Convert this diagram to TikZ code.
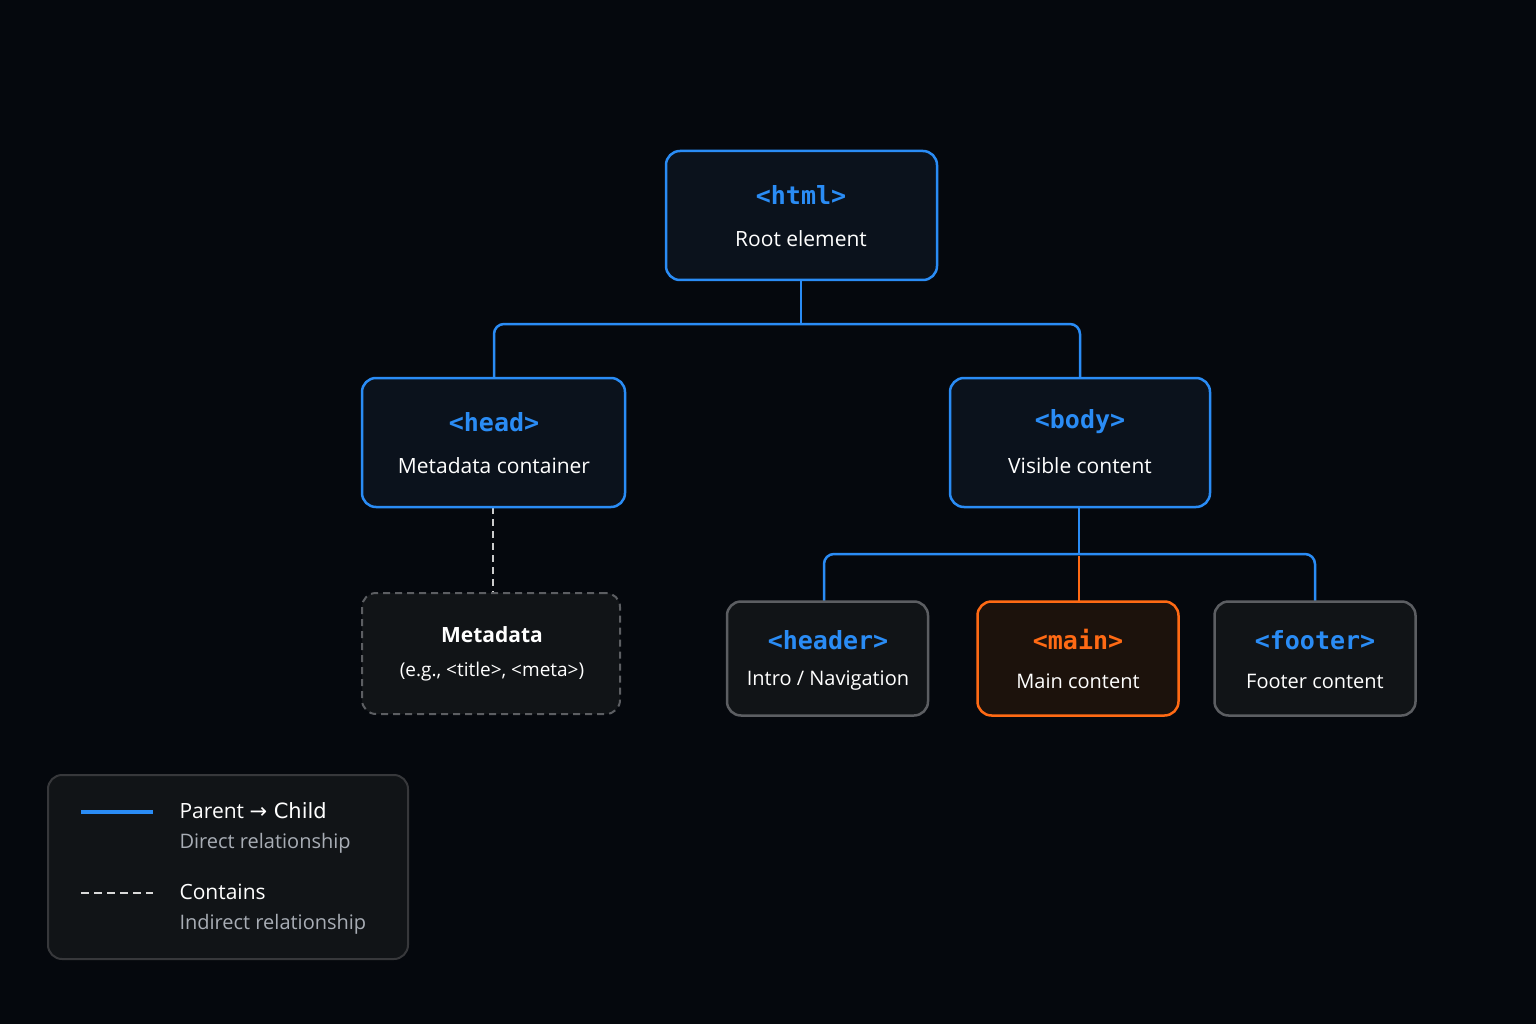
\documentclass[tikz,border=0pt]{standalone}
\usepackage{fontspec}
\setmainfont{Open Sans}
\newfontfamily\tagfont{DejaVu Sans Mono}
\begin{document}
\definecolor{bg}{HTML}{05080D}
\definecolor{blu}{HTML}{2A8CF5}
\definecolor{bfill}{HTML}{0B121C}
\definecolor{gfill}{HTML}{111417}
\definecolor{gline}{HTML}{5C5E62}
\definecolor{org}{HTML}{FF6A14}
\definecolor{ofill}{HTML}{1C120C}
\definecolor{sub}{HTML}{A8ADB5}
\begin{tikzpicture}[x=1pt,y=-1pt,
  box/.style={draw=blu,line width=2.5pt,fill=bfill,rounded corners=14pt,minimum width=#1,align=center,inner sep=0pt},
  gbox/.style={draw=gline,line width=2.5pt,fill=gfill,rounded corners=14pt,minimum width=201pt,minimum height=114pt,align=center,inner sep=0pt},
  tag/.style={font=\tagfont\bfseries\fontsize{25}{30}\selectfont,text=blu},
  lab/.style={font=\fontsize{21}{26}\selectfont,text=white},
  conn/.style={draw=blu,line width=2.5pt,rounded corners=10pt}]
\fill[bg] (0,0) rectangle (1536,1024);
\useasboundingbox (0,0) rectangle (1536,1024);
% connectors
\draw[conn] (801,280) -- (801,324);
\draw[conn] (494,378) -- (494,324) -- (1080,324) -- (1080,378);
\draw[conn] (1079,507) -- (1079,554);
\draw[conn] (824,601) -- (824,554) -- (1315,554) -- (1315,601);
\draw[draw=org,line width=2pt] (1079,556) -- (1079,601);
\draw[draw=white!80!black,line width=2pt,dash pattern=on 7pt off 5pt] (493,507) -- (493,593);
% boxes
\node[box=271pt,minimum height=129pt] (html) at (801.5,215.5) {};
\node[tag] at (801,195) {<html>};
\node[lab] at (801,239) {Root element};
\node[box=263pt,minimum height=129pt] (head) at (493.5,442.5) {};
\node[tag] at (494,422) {<head>};
\node[lab] at (494,466) {Metadata container};
\node[box=260pt,minimum height=129pt] (body) at (1080,442.5) {};
\node[tag] at (1080,422) {<body>};
\node[lab] at (1080,466) {Visible content};
\node[draw=gline,line width=2pt,dash pattern=on 7pt off 5pt,fill=gfill,rounded corners=14pt,minimum width=258pt,minimum height=121pt] (meta) at (491,653.5) {};
\node[lab,font=\bfseries\fontsize{21}{26}\selectfont] at (492,635) {Metadata};
\node[lab,font=\fontsize{19}{24}\selectfont] at (492,672) {(e.g., <title>, <meta>)};
\node[gbox] (header) at (827.5,658.5) {};
\node[tag] at (828,640) {<header>};
\node[lab,font=\fontsize{20}{24}\selectfont] at (828,681) {Intro / Navigation};
\node[gbox,draw=org,fill=ofill] (main) at (1078,658.5) {};
\node[tag,text=org] at (1078,640) {<main>};
\node[lab,font=\fontsize{20}{24}\selectfont] at (1078,681) {Main content};
\node[gbox] (footer) at (1315,658.5) {};
\node[tag] at (1315,640) {<footer>};
\node[lab,font=\fontsize{20}{24}\selectfont] at (1315,681) {Footer content};
% legend
\node[draw=gline!60!black,line width=2pt,fill=gfill,rounded corners=14pt,minimum width=360pt,minimum height=184pt] (leg) at (228,867) {};
\coordinate (l1a) at (81,812); \coordinate (l1b) at (153,812);
\draw[blu,line width=3.5pt] (l1a) -- (l1b);
\coordinate (l2a) at (81,893); \coordinate (l2b) at (153,893);
\draw[white!85!black,line width=2pt,dash pattern=on 8pt off 5pt] (l2a) -- (l2b);
\node[lab,anchor=west,font=\fontsize{21}{26}\selectfont] at (176,811) {Parent \fontspec{DejaVu Sans}→\ Child};
\node[lab,anchor=west,text=sub,font=\fontsize{20}{24}\selectfont] at (176,843) {Direct relationship};
\node[lab,anchor=west,font=\fontsize{21}{26}\selectfont] at (176,892) {Contains};
\node[lab,anchor=west,text=sub,font=\fontsize{20}{24}\selectfont] at (176,924) {Indirect relationship};
\end{tikzpicture}
\end{document}
